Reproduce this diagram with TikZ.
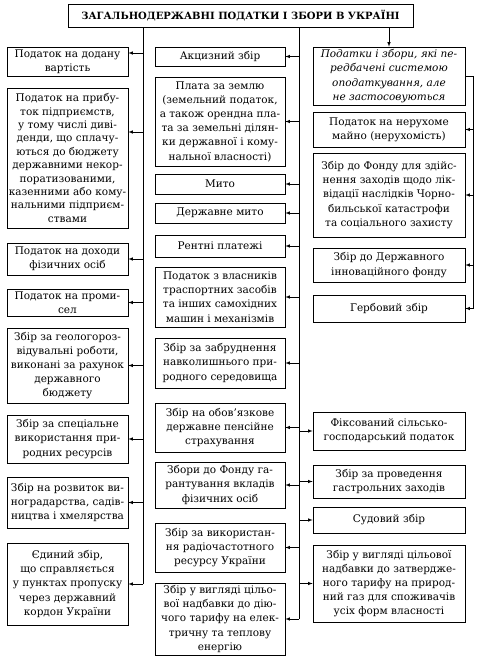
\documentclass[tikz,border=0pt]{standalone}
\usepackage{fontspec}
\setmainfont{DejaVu Serif}

\begin{document}
\begin{tikzpicture}[x=1pt, y=-1pt,
  box/.style={draw, line width=0.7pt, align=center, inner sep=1.5pt,
    font=\fontsize{10.5}{14.2}\selectfont},
  lbox/.style={box, minimum width=121, minimum height=#1},
  mbox/.style={box, minimum width=130, minimum height=#1},
  rbox/.style={box, minimum width=152, minimum height=#1},
  arr/.style={-latex, line width=0.6pt},
  trunk/.style={line width=0.6pt}]
\useasboundingbox (0,0) rectangle (478,656);

% заголовок
\node[box, minimum width=345, minimum height=23, font=\bfseries\fontsize{10}{12}\selectfont]
  (title) at (240.5,15.5) {ЗАГАЛЬНОДЕРЖАВНІ ПОДАТКИ І ЗБОРИ В УКРАЇНІ};

\coordinate (lt) at (143,0);
\coordinate (mt) at (299,0);
\coordinate (rt) at (473,0);

% ліва колонка
\node[lbox=29] (pdv) at (67.5,61.5) {Податок на додану\\вартість};
\node[lbox=140, font=\fontsize{10.5}{13.4}\selectfont] (prib) at (67.5,158)
  {Податок на прибу-\\ток підприємств,\\у тому числі диві-\\денди, що сплачу-\\ються до бюджету\\державними некор-\\поратизованими,\\казенними або кому-\\нальними підприєм-\\ствами};
\node[lbox=32] (doh) at (67.5,259) {Податок на доходи\\фізичних осіб};
\node[lbox=27] (prom) at (67.5,302.5) {Податок на проми-\\сел};
\node[lbox=75] (geo) at (67.5,365.5) {Збір за геологороз-\\відувальні роботи,\\виконані за рахунок\\державного\\бюджету};
\node[lbox=48] (spec) at (67.5,439) {Збір за спеціальне\\використання при-\\родних ресурсів};
\node[lbox=51] (vyn) at (67.5,502.5) {Збір на розвиток ви-\\ноградарства, садів-\\ництва і хмелярства};
\node[lbox=82] (edyn) at (67.5,584) {Єдиний збір,\\що справляється\\у пунктах пропуску\\через державний\\кордон України};

% середня колонка
\node[mbox=19] (akc) at (220,56.5) {Акцизний збір};
\node[mbox=89] (zem) at (220,121.5) {Плата за землю\\(земельний податок,\\а також орендна пла-\\та за земельні ділян-\\ки державної і кому-\\нальної власності)};
\node[mbox=20] (myto) at (220,184) {Мито};
\node[mbox=20] (dmyto) at (220,213) {Державне мито};
\node[mbox=22] (rent) at (220,246) {Рентні платежі};
\node[mbox=60] (trans) at (220,297) {Податок з власників\\траспортних засобів\\та інших самохідних\\машин і механізмів};
\node[mbox=50] (zabr) at (220,363) {Збір за забруднення\\навколишнього при-\\родного середовища};
\node[mbox=49] (pens) at (220,427.5) {Збір на обов’язкове\\державне пенсійне\\страхування};
\node[mbox=46] (garant) at (220,485) {Збори до Фонду га-\\рантування вкладів\\фізичних осіб};
\node[mbox=49] (radio) at (220,547.5) {Збір за використан-\\ня радіочастотного\\ресурсу України};
\node[mbox=72] (elek) at (220,619) {Збір у вигляді цільо-\\вої надбавки до дію-\\чого тарифу на елек-\\тричну та теплову\\енергію};

% права колонка
\node[rbox=58, font=\itshape\fontsize{10.5}{14.2}\selectfont] (ital) at (389,76)
  {Податки і збори, які пе-\\редбачені системою\\оподаткування, але\\не застосовуються};
\node[rbox=35] (neruh) at (389,129.5) {Податок на нерухоме\\майно (нерухомість)};
\node[rbox=84] (chor) at (389,195) {Збір до Фонду для здійс-\\нення заходів щодо лік-\\відації наслідків Чорно-\\бильської катастрофи\\та соціального захисту};
\node[rbox=34] (innov) at (389,265) {Збір до Державного\\інноваційного фонду};
\node[rbox=27] (gerb) at (389,308.5) {Гербовий збір};
\node[rbox=38] (fiks) at (389,431) {Фіксований сільсько-\\господарський податок};
\node[rbox=33] (gastr) at (389,481.5) {Збір за проведення\\гастрольних заходів};
\node[rbox=26] (sud) at (389,520) {Судовий збір};
\node[rbox=77] (gaz) at (389,583.5) {Збір у вигляді цільової\\надбавки до затвердже-\\ного тарифу на природ-\\ний газ для споживачів\\усіх форм власності};

% лівий стовбур
\coordinate (pdvin) at ([yshift=8.5pt]pdv.east);
\coordinate (pribin) at ([yshift=26pt]prib.east);
\draw[trunk] (title.south -| lt) -- (lt |- edyn.east);
\draw[arr] (lt |- pdvin) -- (pdvin);
\draw[arr] (lt |- pribin) -- (pribin);
\draw[arr] (lt |- doh.east) -- (doh.east);
\draw[arr] (lt |- prom.east) -- (prom.east);
\draw[arr] (lt |- geo.east) -- (geo.east);
\draw[arr] (lt |- spec.east) -- (spec.east);
\draw[arr] (lt |- vyn.east) -- (vyn.east);
\draw[arr] (lt |- edyn.east) -- (edyn.east);

% середній стовбур
\draw[trunk] (title.south -| mt) -- (mt |- elek.east);
\draw[arr] (mt |- akc.east) -- (akc.east);
\draw[arr] (mt |- zem.east) -- (zem.east);
\draw[arr] (mt |- myto.east) -- (myto.east);
\draw[arr] (mt |- dmyto.east) -- (dmyto.east);
\draw[arr] (mt |- rent.east) -- (rent.east);
\draw[arr] (mt |- trans.east) -- (trans.east);
\draw[arr] (mt |- zabr.east) -- (zabr.east);
\draw[arr] (mt |- pens.east) -- (pens.east);
\draw[arr] (mt |- garant.east) -- (garant.east);
\draw[arr] (mt |- radio.east) -- (radio.east);
\draw[arr] (mt |- elek.east) -- (elek.east);
\draw[arr] (mt |- fiks.west) -- (fiks.west);
\draw[arr] (mt |- gastr.west) -- (gastr.west);
\draw[arr] (mt |- sud.west) -- (sud.west);
\draw[arr] (mt |- gaz.west) -- (gaz.west);

% правий стовбур
\draw[arr] (title.south -| ital.north) -- (ital.north);
\draw[trunk] (ital.east) -| (rt |- gerb.east);
\draw[arr] (rt |- neruh.east) -- (neruh.east);
\draw[arr] (rt |- chor.east) -- (chor.east);
\draw[arr] (rt |- innov.east) -- (innov.east);
\draw[arr] (rt |- gerb.east) -- (gerb.east);
\end{tikzpicture}
\end{document}
